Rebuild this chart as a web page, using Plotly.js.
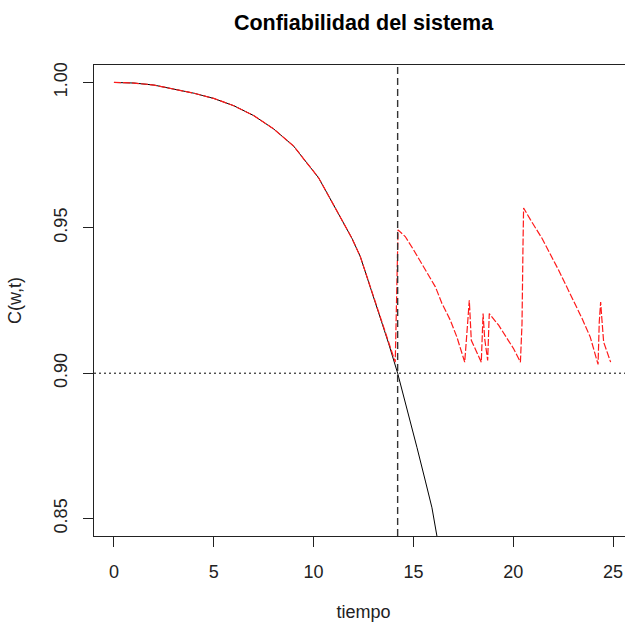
<!DOCTYPE html>
<html>
<head>
<meta charset="utf-8">
<script src="https://cdn.plot.ly/plotly-3.0.1.min.js"></script>
<style>
html, body { margin: 0; padding: 0; overflow: hidden; background: #fff; }
#chart { width: 640px; height: 625px; }
</style>
</head>
<body>
<div id="chart"></div>
<script>
// Sistema sin mantenimiento (línea negra)
const tSistema = [0, 1, 2, 3, 4, 5, 6, 7, 8, 9, 9.67, 10.25, 10.67, 11.34, 11.92, 12.34, 12.84, 13.34, 13.76, 14.21, 14.76, 15.18, 15.60, 15.93, 16.18, 16.5];
const cSistema = [1.0, 0.9998, 0.9991, 0.9977, 0.9963, 0.9945, 0.9920, 0.9886, 0.9840, 0.9781, 0.9724, 0.9672, 0.9620, 0.9539, 0.9464, 0.9401, 0.9297, 0.9194, 0.9102, 0.9000, 0.8860, 0.8744, 0.8629, 0.8537, 0.8439, 0.8330];

// Sistema con mantenimiento (línea roja discontinua)
const tMant = [0, 1, 2, 3, 4, 5, 6, 7, 8, 9, 9.67, 10.25, 10.67, 11.34, 11.92, 12.34, 12.84, 13.34, 13.76, 14.09, 14.23, 14.59, 15.01, 15.51, 16.10, 16.43, 16.85, 17.18, 17.57, 17.69, 17.80, 17.90, 18.10, 18.40, 18.49, 18.57, 18.72, 18.80, 19.27, 20.02, 20.36, 20.44, 20.49, 20.52, 20.86, 21.44, 22.27, 22.86, 23.45, 23.86, 24.25, 24.31, 24.38, 24.42, 24.53, 24.88];
const cMant = [1.0, 0.9998, 0.9991, 0.9977, 0.9963, 0.9945, 0.9920, 0.9886, 0.9840, 0.9781, 0.9724, 0.9672, 0.9620, 0.9539, 0.9464, 0.9401, 0.9297, 0.9194, 0.9102, 0.9038, 0.9493, 0.9470, 0.9424, 0.9366, 0.9297, 0.9240, 0.9182, 0.9124, 0.9038, 0.9148, 0.9251, 0.9113, 0.9084, 0.9038, 0.9205, 0.9119, 0.9044, 0.9205, 0.9165, 0.9084, 0.9038, 0.9170, 0.9441, 0.9568, 0.9528, 0.9464, 0.9355, 0.9274, 0.9188, 0.9124, 0.9030, 0.9176, 0.9245, 0.9205, 0.9107, 0.9038];

// Líneas de referencia
const tCorte = 14.21;
const cUmbral = 0.90;

const xTicks = [0, 5, 10, 15, 20, 25];
const xTickLabels = ['0', '5', '10', '15', '20', '25'];
const yTicks = [0.85, 0.90, 0.95, 1.00];
const yTickLabels = ['0.85', '0.90', '0.95', '1.00'];

const fontFam = '"Liberation Sans", Arial, sans-serif';

const traces = [
  {
    x: tSistema, y: cSistema, type: 'scatter', mode: 'lines',
    line: { color: '#000000', width: 1 }, hoverinfo: 'skip', showlegend: false
  },
  {
    x: tMant, y: cMant, type: 'scatter', mode: 'lines',
    line: { color: '#ff1a1a', width: 1.2, dash: '7px,2px' }, hoverinfo: 'skip', showlegend: false
  }
];

const layout = {
  width: 640, height: 625,
  margin: { l: 94, r: 7, t: 65, b: 89 },
  paper_bgcolor: '#ffffff', plot_bgcolor: '#ffffff',
  font: { family: fontFam, size: 18, color: '#000' },
  showlegend: false,
  title: {
    text: '<b>Confiabilidad del sistema</b>',
    font: { family: fontFam, size: 21.5, color: '#000' },
    xref: 'paper', x: 0.5, xanchor: 'center',
    yref: 'container', y: 1 - 22 / 625, yanchor: 'middle'
  },
  xaxis: {
    range: [-1, 26], tickmode: 'array', tickvals: xTicks, ticktext: xTickLabels,
    showgrid: false, zeroline: false, showline: true, mirror: true,
    linecolor: '#222', linewidth: 1,
    ticks: 'outside', ticklen: 10, tickcolor: '#222', tickwidth: 1,
    ticklabelstandoff: 9,
    tickfont: { family: fontFam, size: 18, color: '#222' },
    title: { text: 'tiempo', font: { family: fontFam, size: 18, color: '#222' }, standoff: 24 }
  },
  yaxis: {
    range: [0.844, 1.006], tickmode: 'array', tickvals: yTicks, ticktext: yTickLabels,
    showgrid: false, zeroline: false, showline: true, mirror: true,
    linecolor: '#222', linewidth: 1,
    ticks: 'outside', ticklen: 10, tickcolor: '#222', tickwidth: 1,
    tickangle: -90, ticklabelstandoff: 9,
    tickfont: { family: fontFam, size: 18, color: '#222' },
    title: { text: 'C(w,t)', font: { family: fontFam, size: 18, color: '#222' }, standoff: 24 }
  },
  shapes: [
    { type: 'line', xref: 'x', yref: 'paper', x0: tCorte, x1: tCorte, y0: 0, y1: 1,
      line: { color: '#333', width: 1.4, dash: '7px,4px' } },
    { type: 'line', xref: 'paper', yref: 'y', x0: 0, x1: 1, y0: cUmbral, y1: cUmbral,
      line: { color: '#000', width: 1, dash: '2px,3px' } }
  ]
};

Plotly.newPlot('chart', traces, layout, { staticPlot: true, displayModeBar: false });
</script>
</body>
</html>
